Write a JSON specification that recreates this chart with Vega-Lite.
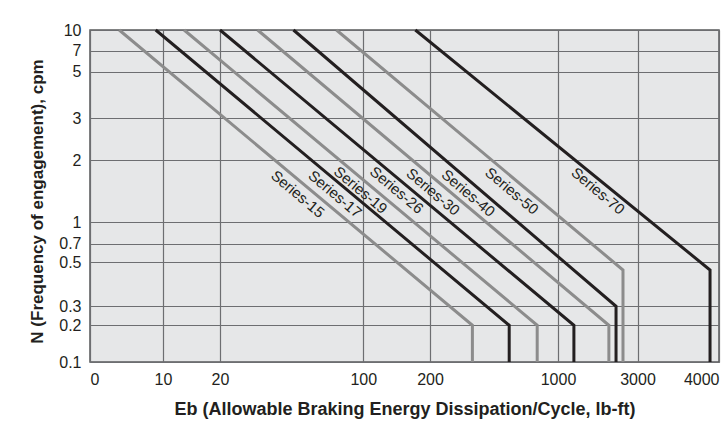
{
  "$schema": "https://vega.github.io/schema/vega-lite/v6.json",
  "width": 629,
  "height": 332,
  "autosize": "none",
  "padding": {"left": 90, "top": 30, "right": 5, "bottom": 68},
  "background": "white",
  "config": {
    "view": {"fill": "#e6e7e8", "stroke": "#58595b", "strokeWidth": 1.5},
    "font": "Liberation Sans",
    "axis": {
      "labelFont": "Liberation Sans",
      "labelFontSize": 16,
      "labelColor": "#231f20",
      "titleFont": "Liberation Sans",
      "titleFontSize": 18,
      "titleFontWeight": "bold",
      "titleColor": "#231f20",
      "gridColor": "#6d6e71",
      "gridWidth": 1.2,
      "gridOpacity": 1,
      "ticks": false,
      "domain": false,
      "labelOverlap": false
    }
  },
  "datasets": {
    "curves": [
      {"series": "Series-15", "i": 0, "E": 4.0, "N": 10},
      {"series": "Series-15", "i": 1, "E": 465, "N": 0.2},
      {"series": "Series-15", "i": 2, "E": 465, "N": 0.1},
      {"series": "Series-17", "i": 0, "E": 9.0, "N": 10},
      {"series": "Series-17", "i": 1, "E": 695, "N": 0.2},
      {"series": "Series-17", "i": 2, "E": 695, "N": 0.1},
      {"series": "Series-19", "i": 0, "E": 13.7, "N": 10},
      {"series": "Series-19", "i": 1, "E": 870, "N": 0.2},
      {"series": "Series-19", "i": 2, "E": 870, "N": 0.1},
      {"series": "Series-26", "i": 0, "E": 20, "N": 10},
      {"series": "Series-26", "i": 1, "E": 1400, "N": 0.2},
      {"series": "Series-26", "i": 2, "E": 1400, "N": 0.1},
      {"series": "Series-30", "i": 0, "E": 41, "N": 10},
      {"series": "Series-30", "i": 1, "E": 2280, "N": 0.2},
      {"series": "Series-30", "i": 2, "E": 2280, "N": 0.1},
      {"series": "Series-40", "i": 0, "E": 61, "N": 10},
      {"series": "Series-40", "i": 1, "E": 2460, "N": 0.3},
      {"series": "Series-40", "i": 2, "E": 2460, "N": 0.1},
      {"series": "Series-50", "i": 0, "E": 85, "N": 10},
      {"series": "Series-50", "i": 1, "E": 2635, "N": 0.465},
      {"series": "Series-50", "i": 2, "E": 2635, "N": 0.1},
      {"series": "Series-70", "i": 0, "E": 178, "N": 10},
      {"series": "Series-70", "i": 1, "E": 3890, "N": 0.465},
      {"series": "Series-70", "i": 2, "E": 3890, "N": 0.1}
    ],
    "labels": [
      {"label": "Series-15", "E": 63.4, "N": 1.456},
      {"label": "Series-17", "E": 84.2, "N": 1.456},
      {"label": "Series-19", "E": 98.5, "N": 1.52},
      {"label": "Series-26", "E": 150, "N": 1.52},
      {"label": "Series-30", "E": 219, "N": 1.49},
      {"label": "Series-40", "E": 439, "N": 1.47},
      {"label": "Series-50", "E": 711, "N": 1.505},
      {"label": "Series-70", "E": 2006, "N": 1.505}
    ]
  },
  "encoding": {
    "x": {
      "field": "E",
      "type": "quantitative",
      "scale": {
        "type": "linear",
        "domain": [0, 10, 20, 100, 200, 1000, 3000, 4000],
        "range": [0, 73, 130, 273.3, 340, 468, 547.5, 629],
        "zero": false,
        "nice": false
      },
      "axis": {
        "values": [0, 10, 20, 100, 200, 1000, 3000, 4000],
        "format": "~r",
        "title": "Eb (Allowable Braking Energy Dissipation/Cycle, lb-ft)",
        "grid": true,
        "labelFlush": true,
        "labelPadding": 9,
        "titlePadding": 13
      }
    },
    "y": {
      "field": "N",
      "type": "quantitative",
      "scale": {
        "type": "linear",
        "domain": [0.1, 0.2, 0.3, 0.5, 0.7, 1, 2, 3, 5, 7, 10],
        "range": [332, 295.3, 276.3, 232.3, 213.7, 192.3, 130.3, 88.3, 41.7, 20.7, 0],
        "zero": false,
        "nice": false
      },
      "axis": {
        "values": [0.1, 0.2, 0.3, 0.5, 0.7, 1, 2, 3, 5, 7, 10],
        "format": "~r",
        "title": "N (Frequency of engagement), cpm",
        "titleFontSize": 17,
        "grid": true,
        "labelPadding": 9,
        "titlePadding": 12,
        "titleY": 171
      }
    }
  },
  "layer": [
    {
      "data": {"name": "curves"},
      "mark": {"type": "line", "strokeWidth": 3},
      "encoding": {
        "color": {
          "field": "series",
          "type": "nominal",
          "scale": {
            "domain": ["Series-15", "Series-17", "Series-19", "Series-26", "Series-30", "Series-40", "Series-50", "Series-70"],
            "range": ["#8c8c8c", "#231f20", "#8c8c8c", "#231f20", "#8c8c8c", "#231f20", "#8c8c8c", "#231f20"]
          },
          "legend": null
        },
        "order": {"field": "i", "type": "quantitative"}
      }
    },
    {
      "data": {"name": "labels"},
      "mark": {"type": "text", "angle": 40, "fontSize": 15, "color": "#231f20", "align": "center", "baseline": "middle"},
      "encoding": {
        "text": {"field": "label", "type": "nominal"}
      }
    }
  ]
}
